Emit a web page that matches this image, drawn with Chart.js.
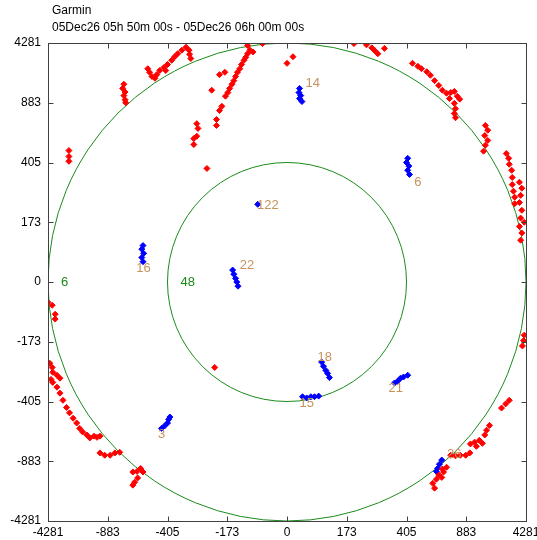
<!DOCTYPE html>
<html>
<head>
<meta charset="utf-8">
<script src="https://cdn.jsdelivr.net/npm/chart.js@4/dist/chart.umd.min.js"></script>
<style>
  html, body { margin: 0; padding: 0; background: #fff; }
  canvas { display: block; }
</style>
</head>
<body>
<canvas id="skyChart" width="537" height="540"></canvas>
<script>
// Axis positions are tick slots (-4..4); the labels are the real values
const tickPositions = [-4, -3, -2, -1, 0, 1, 2, 3, 4];
const tickLabels = ['-4281', '-883', '-405', '-173', '0', '173', '405', '883', '4281'];

const titleLines = ['Garmin', '05Dec26 05h 50m 00s - 05Dec26 06h 00m 00s'];

// elevation rings
const ringRadii = [4, 2];
const ringNames = ['6', '48'];
const ringLabelX = [-3.72, -1.66];

// red track points
const redX = [
  -2.73, -2.75, -2.71, -2.73, -2.71, -2.70,
  -2.33, -2.30, -2.26, -2.21, -2.18, -2.13, -2.06, -2.00, -1.93, -1.88, -1.83, -1.76, -1.69, -1.64, -1.63, -1.61, -2.03,
  -1.03, -0.99, -0.96, -0.92, -0.89, -0.86, -0.83, -0.79, -0.76, -0.72, -0.69, -0.66, -0.62, -0.57, -0.66, -0.41,
  -1.26, -1.13, -1.04, -1.13, -1.09, -1.18, -1.18, -1.51, -1.49, -1.56, -1.51, -1.56, -1.34, 0.00, 0.10,
  1.12, 1.33, 1.42, 1.47, 1.52, 1.63,
  2.10, 2.19, 2.25, 2.34, 2.40, 2.47, 2.54, 2.60, 2.67, 2.74, 2.80, 2.85, 2.89, 2.80, 2.82, 2.80, 2.82, 2.72,
  3.32, 3.36, 3.31, 3.36, 3.32, 3.29,
  3.67, 3.71, 3.72, 3.76, 3.77, 3.77, 3.79, 3.81, 3.81,
  3.89, 3.93, 3.91, 3.89, 3.93, 3.91, 3.89, 3.93, 3.91, 3.97,
  -3.65, -3.65, -3.65,
  -4.00, -3.93, -3.88, -3.88,
  -3.97, -3.93, -3.92, -3.85, -3.80, -3.95, -3.92, -3.85, -3.80, -3.75, -3.69, -3.64, -3.58, -3.52, -3.47, -3.42, -3.35, -3.30, -3.23, -3.18, -3.13,
  -3.13, -3.05, -2.96, -2.88, -2.80,
  -2.58, -2.51, -2.45, -2.41, -2.50, -2.55, -2.58,
  -1.21,
  3.97, 3.96, 3.94,
  3.72, 3.66, 3.59,
  3.39, 3.34, 3.31, 3.22, 3.14, 3.07, 3.27, 3.17,
  3.06, 2.99, 2.90, 2.82, 2.74,
  2.67, 2.62, 2.59, 2.50, 2.44, 2.47, 2.54, 2.60
];
const redY = [
  3.31, 3.24, 3.18, 3.12, 3.05, 3.00,
  3.57, 3.51, 3.44, 3.41, 3.47, 3.54, 3.59, 3.64, 3.71, 3.77, 3.82, 3.88, 3.93, 3.88, 3.81, 3.74, 3.54,
  3.11, 3.17, 3.24, 3.31, 3.37, 3.44, 3.51, 3.57, 3.64, 3.71, 3.76, 3.82, 3.88, 3.85, 3.96, 3.99,
  3.21, 3.47, 3.51, 2.87, 2.94, 2.72, 2.62, 2.65, 2.57, 2.40, 2.44, 2.30, 1.90, 3.66, 3.77,
  3.99, 3.97, 3.92, 3.87, 3.82, 3.91,
  3.66, 3.61, 3.57, 3.52, 3.46, 3.37, 3.29, 3.21, 3.16, 3.17, 3.19, 3.11, 3.06, 2.99, 2.90, 2.82, 2.75, 3.07,
  2.62, 2.54, 2.45, 2.37, 2.29, 2.19,
  2.15, 2.07, 1.97, 1.87, 1.75, 1.63, 1.52, 1.42, 1.31,
  1.67, 1.57, 1.45, 1.33, 1.20, 1.07, 0.93, 0.82, 0.70, 1.00,
  2.20, 2.10, 2.02,
  -0.34, -0.39, -0.54, -0.62,
  -1.36, -1.43, -1.51, -1.56, -1.61, -1.63, -1.68, -1.76, -1.86, -1.98, -2.10, -2.19, -2.28, -2.36, -2.45, -2.51, -2.56, -2.61, -2.58, -2.60, -2.58,
  -2.86, -2.90, -2.90, -2.86, -2.85,
  -3.18, -3.17, -3.12, -3.18, -3.28, -3.35, -3.40,
  -1.43,
  -0.89, -0.98, -1.07,
  -1.98, -2.04, -2.11,
  -2.40, -2.48, -2.56, -2.65, -2.68, -2.71, -2.70, -2.75,
  -2.86, -2.90, -2.90, -2.91, -2.90,
  -3.10, -3.18, -3.27, -3.30, -3.37, -3.45, -3.23, -3.13
];

// blue satellite tracks
const blueX = [
  0.21, 0.20, 0.23, 0.21, 0.25,
  2.02, 2.00, 2.04, 2.02, 2.05,
  -0.49,
  -2.41, -2.43, -2.40, -2.43, -2.41,
  -0.91, -0.89, -0.86, -0.84, -0.82,
  0.58, 0.61, 0.65, 0.68, 0.71,
  0.26, 0.33, 0.40, 0.46, 0.53,
  1.80, 1.85, 1.90, 1.95, 2.02,
  -2.10, -2.05, -2.00, -1.98, -1.96,
  2.59, 2.55, 2.52, 2.50
];
const blueY = [
  3.24, 3.17, 3.12, 3.07, 3.02,
  2.07, 2.00, 1.94, 1.87, 1.80,
  1.30,
  0.61, 0.55, 0.48, 0.41, 0.34,
  0.20, 0.13, 0.06, 0.00, -0.07,
  -1.34, -1.41, -1.48, -1.53, -1.60,
  -1.92, -1.94, -1.92, -1.92, -1.91,
  -1.69, -1.66, -1.61, -1.59, -1.56,
  -2.45, -2.41, -2.36, -2.30, -2.26,
  -2.98, -3.05, -3.12, -3.17
];

// satellite numbers
const satNames = ['14', '6', '122', '16', '22', '18', '15', '21', '3', '26'];
const satLabelX = [0.43, 2.19, -0.32, -2.40, -0.67, 0.63, 0.33, 1.82, -2.10, 2.80];
const satLabelY = [3.32, 1.67, 1.28, 0.23, 0.28, -1.26, -2.04, -1.78, -2.55, -2.88];

const FONT = '"Liberation Sans", Arial, sans-serif';
const toXY = (xs, ys) => xs.map((x, i) => ({ x: x, y: ys[i] }));

const skyDecor = {
  id: 'skyDecor',
  beforeDatasetsDraw(chart) {
    const { ctx, chartArea, scales } = chart;
    const cx = scales.x.getPixelForValue(0);
    const cy = scales.y.getPixelForValue(0);
    ctx.save();
    ctx.beginPath();
    ctx.rect(chartArea.left, chartArea.top, chartArea.right - chartArea.left, chartArea.bottom - chartArea.top);
    ctx.clip();
    ctx.strokeStyle = '#1a8a1a';
    ctx.lineWidth = 1;
    ringRadii.forEach(r => {
      const rx = scales.x.getPixelForValue(r) - cx;
      const ry = cy - scales.y.getPixelForValue(r);
      ctx.beginPath();
      ctx.ellipse(cx, cy, rx, ry, 0, 0, Math.PI * 2);
      ctx.stroke();
    });
    ctx.fillStyle = '#1a8a1a';
    ctx.font = '13px ' + FONT;
    ctx.textAlign = 'center';
    ctx.textBaseline = 'middle';
    ringNames.forEach((name, i) => {
      ctx.fillText(name, scales.x.getPixelForValue(ringLabelX[i]), cy);
    });
    ctx.restore();
  },
  afterDatasetsDraw(chart) {
    const { ctx, chartArea, scales } = chart;
    ctx.save();
    // satellite numbers
    ctx.fillStyle = '#c8925e';
    ctx.font = '13px ' + FONT;
    ctx.textAlign = 'center';
    ctx.textBaseline = 'middle';
    satNames.forEach((name, i) => {
      ctx.fillText(name, scales.x.getPixelForValue(satLabelX[i]), scales.y.getPixelForValue(satLabelY[i]));
    });

    // frame and inward ticks on all four sides
    ctx.strokeStyle = '#404040';
    ctx.lineWidth = 1;
    const l = Math.round(chartArea.left) + 0.5;
    const r = Math.round(chartArea.right) + 0.5;
    const t = Math.round(chartArea.top) + 0.5;
    const b = Math.round(chartArea.bottom) + 0.5;
    ctx.strokeRect(l, t, r - l, b - t);
    ctx.beginPath();
    tickPositions.forEach(v => {
      const px = Math.round(scales.x.getPixelForValue(v)) + 0.5;
      const py = Math.round(scales.y.getPixelForValue(v)) + 0.5;
      ctx.moveTo(px, b); ctx.lineTo(px, b - 5);
      ctx.moveTo(px, t); ctx.lineTo(px, t + 5);
      ctx.moveTo(l, py); ctx.lineTo(l + 5, py);
      ctx.moveTo(r, py); ctx.lineTo(r - 5, py);
    });
    ctx.stroke();

    // title
    ctx.fillStyle = '#000';
    ctx.font = '12px ' + FONT;
    ctx.textAlign = 'left';
    ctx.fillText(titleLines[0], 52, 11);
    ctx.fillText(titleLines[1], 52, 28);
    ctx.restore();
  }
};

function axis(fit) {
  return {
    type: 'linear',
    min: -4,
    max: 4,
    afterBuildTicks: s => { s.ticks = tickPositions.map(v => ({ value: v })); },
    afterFit: s => {
      fit(s);
      // let the end labels overhang instead of shrinking the plot
      s.paddingLeft = 0; s.paddingRight = 0;
      s.paddingTop = 0; s.paddingBottom = 0;
    },
    grid: { display: false, drawTicks: false },
    border: { display: false },
    ticks: {
      autoSkip: false,
      maxRotation: 0,
      color: '#000',
      font: { family: FONT, size: 12 },
      callback: v => tickLabels[Math.round(v) + 4]
    }
  };
}

const xAxis = axis(s => { s.height = 19; });
xAxis.ticks.padding = 4;
const yAxis = axis(s => { s.width = 48; });
yAxis.ticks.padding = 7;

new Chart(document.getElementById('skyChart'), {
  type: 'scatter',
  data: {
    datasets: [
      {
        label: 'red',
        data: toXY(redX, redY),
        pointStyle: 'rectRot',
        pointRadius: 3,
        backgroundColor: '#ff0000',
        borderColor: '#ff0000',
        borderWidth: 1
      },
      {
        label: 'blue',
        data: toXY(blueX, blueY),
        pointStyle: 'rectRot',
        pointRadius: 3,
        backgroundColor: '#0000ff',
        borderColor: '#0000ff',
        borderWidth: 1
      }
    ]
  },
  options: {
    responsive: false,
    animation: false,
    layout: { padding: { left: 0, right: 11, top: 43, bottom: 0 } },
    plugins: {
      legend: { display: false },
      tooltip: { enabled: false }
    },
    scales: { x: xAxis, y: yAxis }
  },
  plugins: [skyDecor]
});
</script>
</body>
</html>
